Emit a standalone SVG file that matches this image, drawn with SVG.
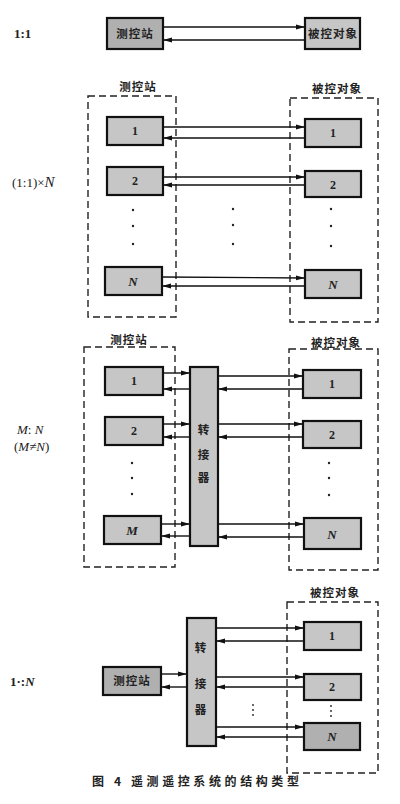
<svg xmlns="http://www.w3.org/2000/svg" width="400" height="804" viewBox="0 0 400 804">
<defs>
<marker id="ah" markerUnits="userSpaceOnUse" markerWidth="10" markerHeight="6" refX="9" refY="3" orient="auto">
<path d="M0,0.6 L9,3 L0,5.4 z" fill="#111"/>
</marker>
<style>
.box{fill:#c6c6c6;stroke:#111;stroke-width:2.2}
.dark{fill:#b0b0b0;stroke:#111;stroke-width:2.2}
.dash{fill:none;stroke:#222;stroke-width:1.4;stroke-dasharray:7,4}
.cn{font-family:"Noto Sans CJK SC","Noto Sans CJK JP",sans-serif;font-weight:bold;font-size:11.5px;fill:#222;text-anchor:middle;letter-spacing:1px}
.num{font-family:"Liberation Serif",serif;font-weight:bold;font-size:12px;fill:#222;text-anchor:middle}
.it{font-family:"Liberation Serif",serif;font-weight:bold;font-style:italic;font-size:13px;fill:#222;text-anchor:middle}
.lab{font-family:"Liberation Serif",serif;font-size:13px;fill:#222}
.conn line{stroke:#111;stroke-width:1.4;marker-end:url(#ah)}
.dot{fill:#222}
</style>
</defs>
<rect width="400" height="804" fill="#fff"/>

<!-- row labels -->
<text class="lab" x="14" y="38" font-weight="bold">1:1</text>
<text class="lab" x="12" y="187"><tspan>(1:1)×</tspan><tspan font-style="italic" font-size="15">N</tspan></text>
<text class="lab" x="17" y="434" font-style="italic">M<tspan font-style="normal">: </tspan>N</text>
<text class="lab" x="14" y="451"><tspan>(</tspan><tspan font-style="italic">M</tspan><tspan>≠</tspan><tspan font-style="italic">N</tspan><tspan>)</tspan></text>
<text class="lab" x="10" y="686" font-weight="bold">1·:<tspan font-style="italic">N</tspan></text>

<!-- Section 1 -->
<g id="s1-station"><rect class="dark" x="107" y="18" width="56" height="31"/><text class="cn" x="135" y="38">测控站</text></g>
<g id="s1-object"><rect class="box" x="305" y="18" width="55" height="31"/><text class="cn" x="333" y="38" letter-spacing="0">被控对象</text></g>

<!-- Section 2 -->
<g id="s2-stations">
<text class="cn" x="138" y="91">测控站</text>
<rect class="dash" x="88" y="96" width="88" height="221"/>
</g>
<g id="s2-st1"><rect class="box" x="107" y="117" width="56" height="28"/><text class="num" x="135" y="135">1</text></g>
<g id="s2-st2"><rect class="box" x="107" y="167" width="56" height="28"/><text class="num" x="135" y="185">2</text></g>
<g id="s2-stN"><rect class="box" x="105" y="267" width="57" height="28"/><text class="it" x="133" y="286">N</text></g>
<g id="s2-objects">
<text class="cn" x="337" y="93">被控对象</text>
<rect class="dash" x="290" y="98" width="88" height="224"/>
</g>
<g id="s2-ob1"><rect class="box" x="305" y="119" width="56" height="28"/><text class="num" x="333" y="137">1</text></g>
<g id="s2-ob2"><rect class="box" x="305" y="171" width="56" height="26"/><text class="num" x="333" y="189">2</text></g>
<g id="s2-obN"><rect class="box" x="305" y="270" width="56" height="28"/><text class="it" x="333" y="289">N</text></g>
<g id="s2-dots">
<circle class="dot" cx="133" cy="210" r="1.2"/><circle class="dot" cx="133" cy="226" r="1.2"/><circle class="dot" cx="133" cy="244" r="1.2"/>
<circle class="dot" cx="233" cy="209" r="1.2"/><circle class="dot" cx="233" cy="225" r="1.2"/><circle class="dot" cx="233" cy="244" r="1.2"/>
<circle class="dot" cx="331" cy="209" r="1.2"/><circle class="dot" cx="331" cy="226" r="1.2"/><circle class="dot" cx="331" cy="246" r="1.2"/>
</g>

<!-- Section 3 -->
<g id="s3-stations">
<text class="cn" x="129" y="344">测控站</text>
<rect class="dash" x="84" y="347" width="91" height="220"/>
</g>
<g id="s3-st1"><rect class="box" x="105" y="367" width="58" height="28"/><text class="num" x="134" y="385">1</text></g>
<g id="s3-st2"><rect class="box" x="105" y="417" width="58" height="28"/><text class="num" x="134" y="435">2</text></g>
<g id="s3-stM"><rect class="box" x="104" y="516" width="57" height="28"/><text class="it" x="132" y="535">M</text></g>
<g id="s3-switch"><rect class="box" x="190" y="367" width="28" height="179"/>
<text class="cn" x="204" y="434" letter-spacing="0">转</text><text class="cn" x="204" y="459" letter-spacing="0">接</text><text class="cn" x="204" y="482" letter-spacing="0">器</text></g>
<g id="s3-objects">
<text class="cn" x="336" y="347">被控对象</text>
<rect class="dash" x="289" y="349" width="89" height="221"/>
</g>
<g id="s3-ob1"><rect class="box" x="303" y="370" width="58" height="28"/><text class="num" x="332" y="388">1</text></g>
<g id="s3-ob2"><rect class="box" x="303" y="421" width="58" height="27"/><text class="num" x="332" y="439">2</text></g>
<g id="s3-obN"><rect class="box" x="304" y="518" width="57" height="31"/><text class="it" x="332" y="539">N</text></g>
<g id="s3-dots">
<circle class="dot" cx="132" cy="463" r="1.2"/><circle class="dot" cx="132" cy="478" r="1.2"/><circle class="dot" cx="132" cy="494" r="1.2"/>
<circle class="dot" cx="329" cy="463" r="1.2"/><circle class="dot" cx="329" cy="478" r="1.2"/><circle class="dot" cx="329" cy="495" r="1.2"/>
</g>

<!-- Section 4 -->
<g id="s4-station"><rect class="dark" x="103" y="667" width="58" height="28"/><text class="cn" x="132" y="685">测控站</text></g>
<g id="s4-switch"><rect class="box" x="187" y="618" width="29" height="128"/>
<text class="cn" x="201" y="652" letter-spacing="0">转</text><text class="cn" x="201" y="688" letter-spacing="0">接</text><text class="cn" x="201" y="714" letter-spacing="0">器</text></g>
<g id="s4-objects">
<text class="cn" x="335" y="597">被控对象</text>
<rect class="dash" x="287" y="602" width="91" height="171"/>
</g>
<g id="s4-ob1"><rect class="box" x="304" y="622" width="57" height="28"/><text class="num" x="332" y="640">1</text></g>
<g id="s4-ob2"><rect class="box" x="304" y="674" width="57" height="26"/><text class="num" x="332" y="691">2</text></g>
<g id="s4-obN"><rect class="dark" x="304" y="723" width="56" height="27"/><text class="it" x="332" y="741">N</text></g>
<g id="s4-dots">
<circle class="dot" cx="253" cy="705" r="0.9"/><circle class="dot" cx="253" cy="710" r="0.9"/><circle class="dot" cx="253" cy="715" r="0.9"/>
<circle class="dot" cx="331" cy="706" r="0.9"/><circle class="dot" cx="331" cy="711" r="0.9"/><circle class="dot" cx="331" cy="716" r="0.9"/>
</g>

<!-- connectors -->
<g id="connectors" class="conn">
<line x1="163" y1="27" x2="305" y2="27"/><line x1="305" y1="40" x2="163" y2="40"/>

<line x1="163" y1="127" x2="305" y2="127"/><line x1="305" y1="138" x2="163" y2="138"/>
<line x1="163" y1="177" x2="305" y2="177"/><line x1="305" y1="185" x2="163" y2="185"/>
<line x1="162" y1="277" x2="305" y2="278"/><line x1="305" y1="286" x2="162" y2="286"/>

<line x1="163" y1="373" x2="190" y2="373"/><line x1="190" y1="389" x2="163" y2="389"/>
<line x1="163" y1="424" x2="190" y2="424"/><line x1="190" y1="437" x2="163" y2="437"/>
<line x1="161" y1="524" x2="190" y2="524"/><line x1="190" y1="536" x2="161" y2="536"/>
<line x1="218" y1="376" x2="303" y2="376"/><line x1="303" y1="389" x2="218" y2="389"/>
<line x1="218" y1="424" x2="303" y2="424"/><line x1="303" y1="437" x2="218" y2="437"/>
<line x1="218" y1="524" x2="304" y2="524"/><line x1="304" y1="537" x2="218" y2="537"/>

<line x1="161" y1="674" x2="187" y2="674"/><line x1="187" y1="687" x2="161" y2="687"/>
<line x1="216" y1="628" x2="304" y2="628"/><line x1="304" y1="641" x2="216" y2="641"/>
<line x1="216" y1="677" x2="304" y2="677"/><line x1="304" y1="687" x2="216" y2="687"/>
<line x1="216" y1="727" x2="304" y2="727"/><line x1="304" y1="737" x2="216" y2="737"/>
</g>

<!-- caption -->
<text x="92" y="786" font-family="Noto Sans CJK SC, sans-serif" font-weight="bold" font-size="12" fill="#222" letter-spacing="3.6">图 4  遥测遥控系统的结构类型</text>
</svg>
